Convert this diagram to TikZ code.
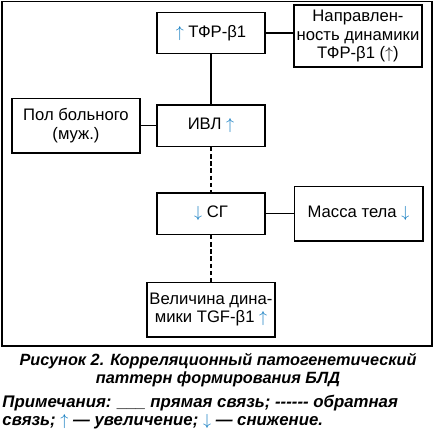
\documentclass[tikz,border=0pt]{standalone}
\usepackage{fontspec}
\setmainfont{Liberation Sans}
\definecolor{arrblue}{RGB}{0,114,188}
\newcommand{\upar}{\textcolor{arrblue}{$\uparrow$}}
\newcommand{\dnar}{\textcolor{arrblue}{$\downarrow$}}

\tikzset{every picture/.style={line width=0.75pt}}
\tikzset{
  factor/.style={draw, line width=1pt, align=center, inner sep=0pt, font=\fontsize{12.5}{14}\selectfont},
  link/.style={line width=1pt},
  backlink/.style={line width=0.8pt, dash pattern=on 3.4pt off 2pt},
}

\begin{document}
\begin{tikzpicture}[x=0.75pt,y=0.75pt,yscale=-1,xscale=1]
\useasboundingbox (0,0) rectangle (436,430);

%Shape: Rectangle [frame]
\draw [line width=1pt] (2,1.5) rectangle (432,346);

%Shape: Rectangle [tfr]
\node [factor, minimum width=81pt, minimum height=31pt] (tfr) at (211,33) {\upar{} ТФР-β1};
%Shape: Rectangle [napr]
\node [factor, minimum width=96pt, minimum height=46.5pt] (napr) at (358,36) {Направлен-\\ность динамики\\ТФР-β1 ($\uparrow$)};
%Shape: Rectangle [pol]
\node [factor, minimum width=96pt, minimum height=41pt] (pol) at (76,125.5) {Пол больного\\(муж.)};
%Shape: Rectangle [ivl]
\node [factor, minimum width=81pt, minimum height=31pt] (ivl) at (211,125.5) {ИВЛ \upar};
%Shape: Rectangle [sg]
\node [factor, minimum width=81pt, minimum height=31pt] (sg) at (211,213.5) {\dnar{} СГ};
%Shape: Rectangle [massa]
\node [factor, minimum width=96.5pt, minimum height=41pt] (massa) at (358.5,213.5) {Масса тела \dnar};
%Shape: Rectangle [vel]
\node [factor, minimum width=96pt, minimum height=41pt] (vel) at (211,309.5) {Величина дина-\\мики TGF-β1 \upar};

% Connection
\draw [link] (tfr.south) -- (ivl.north) ;
% Connection
\draw [link] (tfr.east) -- (tfr.east -| napr.west) ;
% Connection
\draw [link] (pol.east) -- (ivl.west) ;
% Connection
\draw [link] (sg.east) -- (massa.west) ;
% Connection
\draw [backlink] (ivl.south) -- (sg.north) ;
% Connection
\draw [backlink] (sg.south) -- (vel.north) ;

% Text Node
\node [align=center, font=\fontsize{12.2}{13.5}\selectfont\bfseries\itshape] (caption) at (218,370) {Рисунок 2. Корреляционный патогенетический\\паттерн формирования БЛД};
% Text Node
\node [anchor=north west, align=left, inner sep=0pt, font=\fontsize{12.6}{13.5}\selectfont\bfseries\itshape] (notes) at (2,395) {Примечания: \_\_\_ прямая связь; -{}-{}-{}-{}-{}- обратная\\связь; \upar{} — увеличение; \dnar{} — снижение.};

\end{tikzpicture}
\end{document}
